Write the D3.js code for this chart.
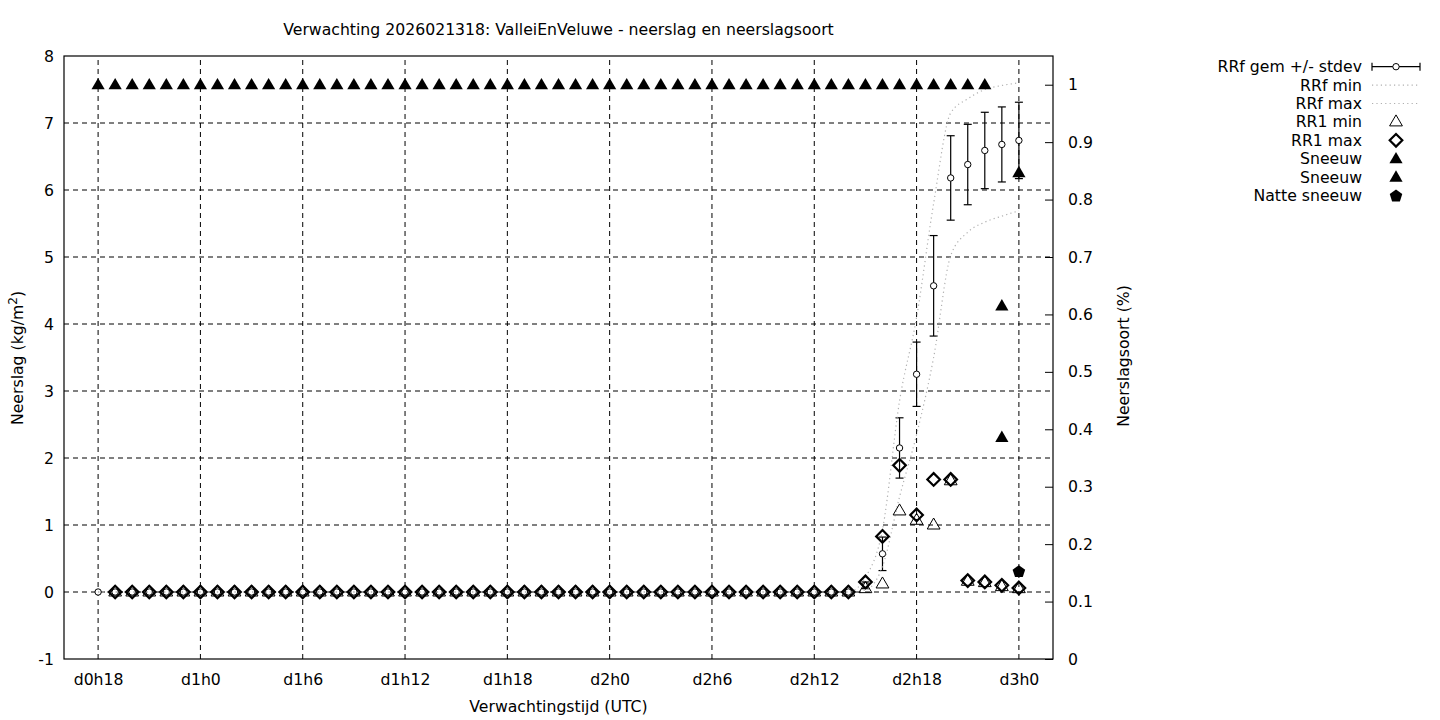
<!DOCTYPE html>
<html>
<head>
<meta charset="utf-8">
<script src="https://cdn.jsdelivr.net/npm/d3@7"></script>
<style>
body { margin: 0; background: #fff; }
text { font-family: "DejaVu Sans", sans-serif; font-size: 15.7px; fill: #000; }
</style>
</head>
<body>
<div id="chart"></div>
<script>
// uren na d0h0
var hours = d3.range(18, 73)
var rr1Hours = d3.range(19, 73)

var rrfGem = [0,0,0,0,0,0,0,0,0,0, 0,0,0,0,0,0,0,0,0,0, 0,0,0,0,0,0,0,0,0,0,
  0,0,0,0,0,0,0,0,0,0, 0,0,0,0,0, 0.1,0.57,2.15,3.25,4.57,6.18,6.38,6.59,6.68,6.74]
var rrfStdev = [0,0,0,0,0,0,0,0,0,0, 0,0,0,0,0,0,0,0,0,0, 0,0,0,0,0,0,0,0,0,0,
  0,0,0,0,0,0,0,0,0,0, 0,0,0,0,0, 0.05,0.25,0.45,0.48,0.75,0.63,0.6,0.57,0.56,0.57]
var rrfMin = [0,0,0,0,0,0,0,0,0,0, 0,0,0,0,0,0,0,0,0,0, 0,0,0,0,0,0,0,0,0,0,
  0,0,0,0,0,0,0,0,0,0, 0,0,0,0,0, 0.03,0.38,1.42,2.35,3.5,5.02,5.37,5.52,5.61,5.69]
var rrfMax = [0,0,0,0,0,0,0,0,0,0, 0,0,0,0,0,0,0,0,0,0, 0,0,0,0,0,0,0,0,0,0,
  0,0,0,0,0,0,0,0,0,0, 0,0,0,0,0, 0.22,0.93,2.85,4.1,5.8,7.15,7.36,7.5,7.56,7.6]

var rr1Min = [0,0,0,0,0,0,0,0,0,0, 0,0,0,0,0,0,0,0,0,0, 0,0,0,0,0,0,0,0,0,0,
  0,0,0,0,0,0,0,0,0,0, 0,0,0,0, 0.05,0.12,1.21,1.07,1.0,1.66,0.16,0.14,0.08,0.05]
var rr1Max = [0,0,0,0,0,0,0,0,0,0, 0,0,0,0,0,0,0,0,0,0, 0,0,0,0,0,0,0,0,0,0,
  0,0,0,0,0,0,0,0,0,0, 0,0,0,0, 0.15,0.83,1.89,1.15,1.68,1.68,0.17,0.15,0.1,0.06]

var sneeuw1 = [1,1,1,1,1,1,1,1,1,1, 1,1,1,1,1,1,1,1,1,1, 1,1,1,1,1,1,1,1,1,1,
  1,1,1,1,1,1,1,1,1,1, 1,1,1,1,1,1,1,1,1,1, 1,1,1, 0.615,0.847]
var sneeuw2Hours = [71]
var sneeuw2 = [0.386]
var natteHours = [72]
var natteSneeuw = [0.153]

var xTicks = [18, 24, 30, 36, 42, 48, 54, 60, 66, 72]
var xTickLabels = ["d0h18", "d1h0", "d1h6", "d1h12", "d1h18", "d2h0", "d2h6", "d2h12", "d2h18", "d3h0"]
var yTicks = [-1, 0, 1, 2, 3, 4, 5, 6, 7, 8]
var y2Ticks = [0, 0.1, 0.2, 0.3, 0.4, 0.5, 0.6, 0.7, 0.8, 0.9, 1]
var legendLabels = ["RRf gem +/- stdev", "RRf min", "RRf max", "RR1 min", "RR1 max", "Sneeuw", "Sneeuw", "Natte sneeuw"]

var pLeft = 64, pRight = 1053, pTop = 56, pBottom = 659

var svg = d3.select("#chart").append("svg")
  .attr("width", 1440)
  .attr("height", 720)

var x = d3.scaleLinear().domain([16, 74]).range([pLeft, pRight])
var y = d3.scaleLinear().domain([-1, 8]).range([pBottom, pTop])
var y2 = d3.scaleLinear().domain([0, 1.05]).range([pBottom, pTop])

// symbolen
var triPath = "M0,-7 L6.4,4 L-6.4,4 Z"
var filledTriPath = "M0,-6.8 L6.6,4.6 L-6.6,4.6 Z"
var diamondPath = "M0,-6.3 L6.3,0 L0,6.3 L-6.3,0 Z"
var pentPath = d3.range(5).map(function(i) {
  var a = -Math.PI / 2 + i * 2 * Math.PI / 5
  return [6.6 * Math.cos(a), 6.6 * Math.sin(a) + 0.6]
})
pentPath = "M" + pentPath.join("L") + "Z"

// grid
var grid = svg.append("g").attr("class", "grid")
grid.selectAll(".hgrid")
  .data(yTicks.filter(function(d) { return d > -1 && d < 8 }))
  .enter().append("line")
    .attr("x1", pLeft).attr("x2", pRight)
    .attr("y1", function(d) { return y(d) }).attr("y2", function(d) { return y(d) })
    .attr("stroke", "#000").attr("stroke-width", 1)
    .attr("stroke-dasharray", "5,4")
grid.selectAll(".vgrid")
  .data(xTicks)
  .enter().append("line")
    .attr("x1", function(d) { return x(d) }).attr("x2", function(d) { return x(d) })
    .attr("y1", pBottom).attr("y2", pTop)
    .attr("stroke", "#000").attr("stroke-width", 1)
    .attr("stroke-dasharray", "5,4")

// assen
svg.append("g")
  .attr("transform", "translate(" + pLeft + ",0)")
  .call(d3.axisLeft(y).tickValues(yTicks).tickSize(0).tickPadding(10).tickFormat(function(d) { return String(d) }))
  .call(function(g) { g.select(".domain").remove() })

svg.append("g")
  .attr("transform", "translate(" + pRight + ",0)")
  .call(d3.axisRight(y2).tickValues(y2Ticks).tickSize(-8).tickPadding(15).tickFormat(function(d) { return String(+d.toFixed(1)) }))
  .call(function(g) { g.select(".domain").remove() })
  .call(function(g) { g.selectAll(".tick line").attr("stroke", "#000") })

svg.append("g")
  .attr("transform", "translate(0," + pBottom + ")")
  .call(d3.axisBottom(x).tickValues(xTicks).tickSize(0).tickPadding(15)
    .tickFormat(function(d, i) { return xTickLabels[i] }))
  .call(function(g) { g.select(".domain").remove() })

svg.selectAll(".tick text").attr("font-size", null).attr("font-family", null)

svg.append("rect")
  .attr("x", pLeft).attr("y", pTop)
  .attr("width", pRight - pLeft).attr("height", pBottom - pTop)
  .attr("fill", "none").attr("stroke", "#000").attr("stroke-width", 1.2)

// titels
svg.append("text")
  .attr("x", (pLeft + pRight) / 2).attr("y", 35)
  .attr("text-anchor", "middle")
  .text("Verwachting 2026021318: ValleiEnVeluwe - neerslag en neerslagsoort")

svg.append("text")
  .attr("x", (pLeft + pRight) / 2).attr("y", 712)
  .attr("text-anchor", "middle")
  .text("Verwachtingstijd (UTC)")

var ylab = svg.append("text")
  .attr("transform", "translate(23,358) rotate(-90)")
  .attr("text-anchor", "middle")
ylab.append("tspan").text("Neerslag (kg/m")
ylab.append("tspan").attr("dy", -6).attr("font-size", "12px").text("2")
ylab.append("tspan").attr("dy", 6).text(")")

svg.append("text")
  .attr("transform", "translate(1129,356) rotate(-90)")
  .attr("text-anchor", "middle")
  .text("Neerslagsoort (%)")

// data
var plot = svg.append("g").attr("class", "plot")

var gemData = hours.map(function(h, i) { return {h: h, v: rrfGem[i], s: rrfStdev[i]} })

// errorbars
var eb = plot.append("g").selectAll("g")
  .data(gemData.filter(function(d) { return d.s > 0 }))
  .enter().append("g")
eb.append("line")
  .attr("x1", function(d) { return x(d.h) }).attr("x2", function(d) { return x(d.h) })
  .attr("y1", function(d) { return y(d.v - d.s) }).attr("y2", function(d) { return y(d.v + d.s) })
  .attr("stroke", "#000").attr("stroke-width", 1.2)
eb.selectAll(".cap")
  .data(function(d) { return [[d.h, d.v - d.s], [d.h, d.v + d.s]] })
  .enter().append("line")
    .attr("x1", function(d) { return x(d[0]) - 4 }).attr("x2", function(d) { return x(d[0]) + 4 })
    .attr("y1", function(d) { return y(d[1]) }).attr("y2", function(d) { return y(d[1]) })
    .attr("stroke", "#000").attr("stroke-width", 1.2)

plot.append("g").selectAll("circle")
  .data(gemData)
  .enter().append("circle")
    .attr("cx", function(d) { return x(d.h) })
    .attr("cy", function(d) { return y(d.v) })
    .attr("r", 3.2)
    .attr("fill", "#fff").attr("stroke", "#000").attr("stroke-width", 1)

var line = d3.line()
  .x(function(d) { return x(d[0]) })
  .y(function(d) { return y(d[1]) })
  .curve(d3.curveMonotoneX)

;[rrfMin, rrfMax].forEach(function(series) {
  plot.append("path")
    .datum(hours.map(function(h, i) { return [h, series[i]] }))
    .attr("d", line)
    .attr("fill", "none")
    .attr("stroke", "#b0b0b0").attr("stroke-width", 1.2)
    .attr("stroke-dasharray", "1.2,3.2")
})

function points(g, hs, vals, scale, path, fill, sw) {
  g.append("g").selectAll("path")
    .data(hs.map(function(h, i) { return [h, vals[i]] }))
    .enter().append("path")
      .attr("d", path)
      .attr("transform", function(d) { return "translate(" + x(d[0]) + "," + scale(d[1]) + ")" })
      .attr("fill", fill)
      .attr("stroke", "#000")
      .attr("stroke-width", sw)
      .attr("stroke-linejoin", "miter")
}

points(plot, rr1Hours, rr1Min, y, triPath, "none", 1)
points(plot, rr1Hours, rr1Max, y, diamondPath, "none", 2.2)
points(plot, hours, sneeuw1, y2, filledTriPath, "#000", 0)
points(plot, sneeuw2Hours, sneeuw2, y2, filledTriPath, "#000", 0)
points(plot, natteHours, natteSneeuw, y2, pentPath, "#000", 0)

// legenda
var lx = 1362, ls = 1396, rowY = 66.7, rowH = 18.4
var legend = svg.append("g").attr("class", "legend")
legend.selectAll("text")
  .data(legendLabels)
  .enter().append("text")
    .attr("x", lx)
    .attr("y", function(d, i) { return rowY + i * rowH + 5.5 })
    .attr("text-anchor", "end")
    .text(function(d) { return d })

legend.append("line")
  .attr("x1", 1372).attr("x2", 1420).attr("y1", rowY).attr("y2", rowY)
  .attr("stroke", "#000").attr("stroke-width", 1.2)
;[1372, 1420].forEach(function(cx) {
  legend.append("line")
    .attr("x1", cx).attr("x2", cx).attr("y1", rowY - 4).attr("y2", rowY + 4)
    .attr("stroke", "#000").attr("stroke-width", 1.2)
})
legend.append("circle")
  .attr("cx", ls).attr("cy", rowY).attr("r", 3.2)
  .attr("fill", "#fff").attr("stroke", "#000")

;[1, 2].forEach(function(i) {
  legend.append("line")
    .attr("x1", 1372).attr("x2", 1420)
    .attr("y1", rowY + i * rowH).attr("y2", rowY + i * rowH)
    .attr("stroke", "#b0b0b0").attr("stroke-width", 1.2)
    .attr("stroke-dasharray", "1.2,3.2")
})

var legSyms = [[triPath, "none", 1], [diamondPath, "none", 2.2], [filledTriPath, "#000", 0],
  [filledTriPath, "#000", 0], [pentPath, "#000", 0]]
legSyms.forEach(function(s, i) {
  legend.append("path")
    .attr("d", s[0])
    .attr("transform", "translate(" + ls + "," + (rowY + (i + 3) * rowH) + ")")
    .attr("fill", s[1]).attr("stroke", "#000").attr("stroke-width", s[2])
})
</script>
</body>
</html>
